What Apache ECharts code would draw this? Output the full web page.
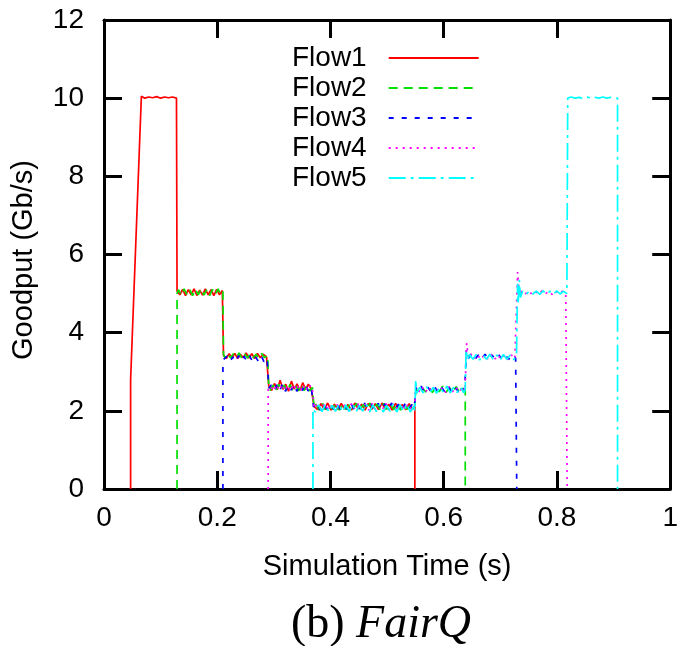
<!DOCTYPE html>
<html>
<head>
<meta charset="utf-8">
<script src="https://cdn.jsdelivr.net/npm/echarts@6/dist/echarts.min.js"></script>
<style>html,body{margin:0;padding:0;background:#fff}#c{width:681px;height:646px}</style>
</head>
<body>
<div id="c"></div>
<script>
var flowNames = ['Flow1', 'Flow2', 'Flow3', 'Flow4', 'Flow5'];
var flowColors = ['#ff0000', '#00e000', '#0000ff', '#ff00ff', '#00ffff'];

var flow1 = [[0.047,0],[0.047,2.8],[0.066,10.05],[0.072,10.0],[0.079,10.03],[0.086,10.01],[0.093,10.04],[0.100,10.0],[0.107,10.03],[0.114,10.01],[0.121,10.03],[0.128,10.0],
[0.129,5.06],[0.134,4.97],[0.139,5.11],[0.144,4.95],[0.149,5.1],[0.154,4.97],[0.159,5.12],[0.164,4.95],[0.169,5.09],[0.174,4.96],[0.179,5.12],[0.184,4.97],[0.189,5.1],[0.194,4.95],[0.199,5.11],[0.204,4.97],[0.209,5.08],
[0.211,3.42],[0.216,3.34],[0.221,3.46],[0.226,3.35],[0.231,3.47],[0.236,3.34],[0.241,3.45],[0.246,3.36],[0.251,3.48],[0.256,3.35],[0.261,3.46],[0.266,3.34],[0.271,3.47],[0.276,3.36],[0.281,3.45],[0.287,3.38],
[0.291,2.64],[0.296,2.52],[0.301,2.7],[0.306,2.54],[0.311,2.78],[0.316,2.55],[0.321,2.68],[0.326,2.5],[0.331,2.76],[0.336,2.56],[0.341,2.69],[0.346,2.52],[0.351,2.72],[0.356,2.55],[0.361,2.68],[0.366,2.56],
[0.371,2.12],[0.377,2.03],[0.383,2.18],[0.389,2.04],[0.395,2.2],[0.401,2.02],[0.407,2.17],[0.413,2.03],[0.419,2.19],[0.425,2.04],[0.431,2.16],[0.437,2.02],[0.443,2.2],[0.449,2.05],[0.455,2.17],[0.461,2.02],[0.467,2.19],[0.473,2.04],[0.479,2.18],[0.485,2.03],[0.491,2.2],[0.497,2.04],[0.503,2.17],[0.509,2.02],[0.515,2.19],[0.521,2.05],[0.527,2.16],[0.533,2.03],[0.539,2.18],[0.545,2.04],[0.549,2.1],[0.549,0]];

var flow2 = [[0.129,0],[0.129,5.0],[0.1315,5.1],[0.1365,4.96],[0.1415,5.12],[0.1465,4.97],[0.1515,5.1],[0.1565,4.95],[0.1615,5.11],[0.1665,4.97],[0.1715,5.12],[0.1765,4.96],[0.1815,5.1],[0.1865,4.95],[0.1915,5.11],[0.1965,4.97],[0.2015,5.12],[0.2065,4.96],[0.21,5.05],
[0.211,3.45],[0.2135,3.36],[0.2185,3.47],[0.2235,3.35],[0.2285,3.46],[0.2335,3.36],[0.2385,3.48],[0.2435,3.34],[0.2485,3.46],[0.2535,3.35],[0.2585,3.47],[0.2635,3.36],[0.2685,3.45],[0.2735,3.34],[0.2785,3.47],[0.2835,3.36],[0.289,3.42],
[0.291,2.6],[0.2935,2.52],[0.2985,2.66],[0.3035,2.5],[0.3085,2.68],[0.3135,2.53],[0.3185,2.66],[0.3235,2.5],[0.3285,2.67],[0.3335,2.53],[0.3385,2.65],[0.3435,2.51],[0.3485,2.68],[0.3535,2.52],[0.3585,2.66],[0.3635,2.51],[0.368,2.6],
[0.371,2.08],[0.374,2.17],[0.38,2.02],[0.386,2.19],[0.392,2.03],[0.398,2.16],[0.404,2.04],[0.41,2.2],[0.416,2.02],[0.422,2.18],[0.428,2.03],[0.434,2.17],[0.44,2.05],[0.446,2.19],[0.452,2.02],[0.458,2.16],[0.464,2.04],[0.47,2.2],[0.476,2.03],[0.482,2.17],[0.488,2.02],[0.494,2.19],[0.5,2.04],[0.506,2.16],[0.512,2.03],[0.518,2.2],[0.524,2.02],[0.53,2.18],[0.536,2.04],[0.542,2.17],[0.548,2.05],
[0.551,2.55],[0.556,2.47],[0.562,2.6],[0.568,2.48],[0.574,2.62],[0.58,2.47],[0.586,2.6],[0.592,2.49],[0.598,2.63],[0.604,2.47],[0.61,2.6],[0.616,2.48],[0.622,2.62],[0.628,2.47],[0.634,2.58],[0.638,2.5],[0.638,0]];

var flow3 = [[0.21,0],[0.21,3.3],[0.2125,3.27],[0.2175,3.4],[0.2225,3.26],[0.2275,3.38],[0.2325,3.25],[0.2375,3.41],[0.2425,3.27],[0.2475,3.39],[0.2525,3.26],[0.2575,3.4],[0.2625,3.25],[0.2675,3.38],[0.2725,3.27],[0.2775,3.41],[0.2825,3.26],[0.288,3.35],
[0.291,2.58],[0.2955,2.66],[0.3005,2.51],[0.3055,2.67],[0.3105,2.52],[0.3155,2.7],[0.3205,2.5],[0.3255,2.66],[0.3305,2.53],[0.3355,2.68],[0.3405,2.5],[0.3455,2.66],[0.3505,2.52],[0.3555,2.69],[0.3605,2.51],[0.366,2.62],
[0.37,2.1],[0.376,2.19],[0.382,2.02],[0.388,2.17],[0.394,2.04],[0.4,2.2],[0.406,2.03],[0.412,2.18],[0.418,2.02],[0.424,2.16],[0.43,2.04],[0.436,2.19],[0.442,2.03],[0.448,2.17],[0.454,2.02],[0.46,2.2],[0.466,2.04],[0.472,2.16],[0.478,2.03],[0.484,2.19],[0.49,2.02],[0.496,2.18],[0.502,2.04],[0.508,2.2],[0.514,2.03],[0.52,2.17],[0.526,2.02],[0.532,2.19],[0.538,2.04],[0.544,2.16],[0.548,2.08],
[0.551,2.6],[0.554,2.5],[0.56,2.63],[0.566,2.47],[0.572,2.6],[0.578,2.49],[0.584,2.62],[0.59,2.47],[0.596,2.61],[0.602,2.48],[0.608,2.63],[0.614,2.47],[0.62,2.6],[0.626,2.49],[0.632,2.62],[0.637,2.52],
[0.64,3.55],[0.643,3.33],[0.649,3.44],[0.655,3.31],[0.661,3.43],[0.667,3.32],[0.673,3.45],[0.679,3.31],[0.685,3.43],[0.691,3.33],[0.697,3.44],[0.703,3.31],[0.709,3.42],[0.715,3.32],[0.721,3.44],[0.727,3.35],[0.729,3.35],[0.729,0]];

var flow4 = [[0.29,0],[0.29,2.55],[0.2945,2.63],[0.2995,2.5],[0.3045,2.67],[0.3095,2.52],[0.3145,2.68],[0.3195,2.51],[0.3245,2.66],[0.3295,2.5],[0.3345,2.69],[0.3395,2.53],[0.3445,2.66],[0.3495,2.5],[0.3545,2.67],[0.3595,2.52],[0.3645,2.65],[0.368,2.55],
[0.3715,2.06],[0.3775,2.18],[0.3835,2.03],[0.3895,2.2],[0.3955,2.02],[0.4015,2.17],[0.4075,2.04],[0.4135,2.19],[0.4195,2.03],[0.4255,2.16],[0.4315,2.02],[0.4375,2.2],[0.4435,2.04],[0.4495,2.18],[0.4555,2.03],[0.4615,2.17],[0.4675,2.02],[0.4735,2.19],[0.4795,2.04],[0.4855,2.16],[0.4915,2.03],[0.4975,2.2],[0.5035,2.02],[0.5095,2.18],[0.5155,2.04],[0.5215,2.17],[0.5275,2.03],[0.5335,2.19],[0.5395,2.02],[0.5455,2.16],[0.5485,2.1],
[0.5505,2.62],[0.5555,2.48],[0.5615,2.62],[0.5675,2.47],[0.5735,2.61],[0.5795,2.49],[0.5855,2.63],[0.5915,2.48],[0.5975,2.6],[0.6035,2.47],[0.6095,2.62],[0.6155,2.49],[0.6215,2.61],[0.6275,2.48],[0.6335,2.62],[0.6375,2.5],
[0.6405,3.73],[0.6435,3.36],[0.6475,3.46],[0.6535,3.32],[0.6595,3.44],[0.6655,3.31],[0.6715,3.43],[0.6775,3.33],[0.6835,3.45],[0.6895,3.31],[0.6955,3.43],[0.7015,3.32],[0.7075,3.44],[0.7135,3.31],[0.7195,3.43],[0.7255,3.33],[0.7285,3.38],
[0.7305,5.55],[0.7335,4.95],[0.7375,5.06],[0.7435,4.98],[0.7495,5.07],[0.7555,4.99],[0.7615,5.06],[0.7675,4.98],[0.7735,5.07],[0.7795,4.99],[0.7855,5.06],[0.7915,4.98],[0.7975,5.07],[0.8035,4.99],[0.8095,5.06],[0.8155,5.0],[0.818,5.02],[0.818,0]];

var flow5 = [[0.369,0],[0.369,2.05],[0.373,1.97],[0.379,2.15],[0.385,1.98],[0.391,2.17],[0.397,1.97],[0.403,2.14],[0.409,1.99],[0.415,2.18],[0.421,1.97],[0.427,2.15],[0.433,1.98],[0.439,2.17],[0.445,1.97],[0.451,2.14],[0.457,1.99],[0.463,2.18],[0.469,1.97],[0.475,2.15],[0.481,1.98],[0.487,2.17],[0.493,1.97],[0.499,2.14],[0.505,1.99],[0.511,2.18],[0.517,1.97],[0.523,2.15],[0.529,1.98],[0.535,2.17],[0.541,1.97],[0.547,2.12],[0.549,2.0],
[0.5505,2.8],[0.5525,2.45],[0.5575,2.6],[0.5635,2.46],[0.5695,2.62],[0.5755,2.47],[0.5815,2.6],[0.5875,2.45],[0.5935,2.61],[0.5995,2.47],[0.6055,2.63],[0.6115,2.46],[0.6175,2.6],[0.6235,2.47],[0.6295,2.61],[0.6355,2.46],[0.638,2.55],
[0.6395,3.55],[0.6425,3.3],[0.6455,3.45],[0.6515,3.32],[0.6575,3.44],[0.6635,3.3],[0.6695,3.43],[0.6755,3.32],[0.6815,3.45],[0.6875,3.31],[0.6935,3.43],[0.6995,3.3],[0.7055,3.44],[0.7115,3.32],[0.7175,3.43],[0.7235,3.31],[0.7285,3.4],
[0.7305,5.25],[0.7315,4.75],[0.7335,5.35],[0.7355,4.9],[0.7395,5.06],[0.7455,4.98],[0.7515,5.07],[0.7575,4.99],[0.7635,5.06],[0.7695,4.98],[0.7755,5.07],[0.7815,4.99],[0.7875,5.06],[0.7935,4.98],[0.7995,5.07],[0.8055,4.99],[0.8115,5.06],[0.8175,5.0],
[0.819,10.0],[0.825,10.03],[0.832,10.0],[0.839,10.02],[0.846,9.99],[0.853,10.03],[0.86,10.0],[0.867,10.02],[0.874,10.0],[0.881,10.03],[0.888,10.0],[0.895,10.02],[0.902,10.0],[0.907,10.0],[0.907,0]];

var flowData = [flow1, flow2, flow3, flow4, flow5];
var flowDash = ['solid', [9, 6], [5, 8], [2, 5], [17, 5, 3, 5]];

var sans = 'Liberation Sans, Arial, Helvetica, sans-serif';
var axisLineStyle = {color: '#000', width: 3};
var tickStyle = {show: true, inside: true, length: 18, lineStyle: {color: '#000', width: 3}};

var chart = echarts.init(document.getElementById('c'), null, {renderer: 'canvas'});
var series = flowNames.map(function (n, i) {
  return {
    name: n, type: 'line', data: flowData[i], symbol: 'none', showSymbol: false,
    lineStyle: {color: flowColors[i], width: 1.7, type: flowDash[i]},
    itemStyle: {color: flowColors[i]},
    z: 2 + i, animation: false
  };
});

chart.setOption({
  animation: false,
  grid: {left: 104, right: 6, top: 20, bottom: 157, containLabel: false},
  legend: {
    data: flowNames, orient: 'vertical', left: 287, top: 38, align: 'right',
    itemWidth: 90, itemHeight: 14, itemGap: 0,
    itemStyle: {opacity: 0},
    textStyle: {fontFamily: sans, fontSize: 28, color: '#000', lineHeight: 30, padding: [0, 17, 0, 0]}
  },
  xAxis: [{
    type: 'value', min: 0, max: 1, interval: 0.2, position: 'bottom',
    axisLine: {show: true, onZero: false, lineStyle: axisLineStyle}, axisTick: tickStyle, splitLine: {show: false},
    axisLabel: {fontFamily: sans, fontSize: 28, color: '#000', margin: 15},
    name: 'Simulation Time (s)', nameLocation: 'middle', nameGap: 63,
    nameTextStyle: {fontFamily: sans, fontSize: 29, color: '#000'}
  }, {
    type: 'value', min: 0, max: 1, interval: 0.2, position: 'top',
    axisLine: {show: true, onZero: false, lineStyle: axisLineStyle}, axisTick: tickStyle, splitLine: {show: false},
    axisLabel: {show: false}
  }],
  yAxis: [{
    type: 'value', min: 0, max: 12, interval: 2, position: 'left',
    axisLine: {show: true, onZero: false, lineStyle: axisLineStyle}, axisTick: tickStyle, splitLine: {show: false},
    axisLabel: {fontFamily: sans, fontSize: 28, color: '#000', margin: 20},
    name: 'Goodput (Gb/s)', nameLocation: 'middle', nameGap: 66,
    nameTextStyle: {fontFamily: sans, fontSize: 29, color: '#000', padding: [0, 11, 0, 0]}
  }, {
    type: 'value', min: 0, max: 12, interval: 2, position: 'right',
    axisLine: {show: true, onZero: false, lineStyle: axisLineStyle}, axisTick: tickStyle, splitLine: {show: false},
    axisLabel: {show: false}
  }],
  graphic: [{
    type: 'text', x: 381, y: 625,
    style: {
      text: '{n|(b) }{i|FairQ}', align: 'center', verticalAlign: 'middle',
      rich: {
        n: {fontFamily: 'Liberation Serif, Times New Roman, serif', fontSize: 46, fill: '#000', color: '#000'},
        i: {fontFamily: 'Liberation Serif, Times New Roman, serif', fontSize: 46, fontStyle: 'italic', fill: '#000', color: '#000'}
      }
    }
  }],
  series: series
});
</script>
</body>
</html>
